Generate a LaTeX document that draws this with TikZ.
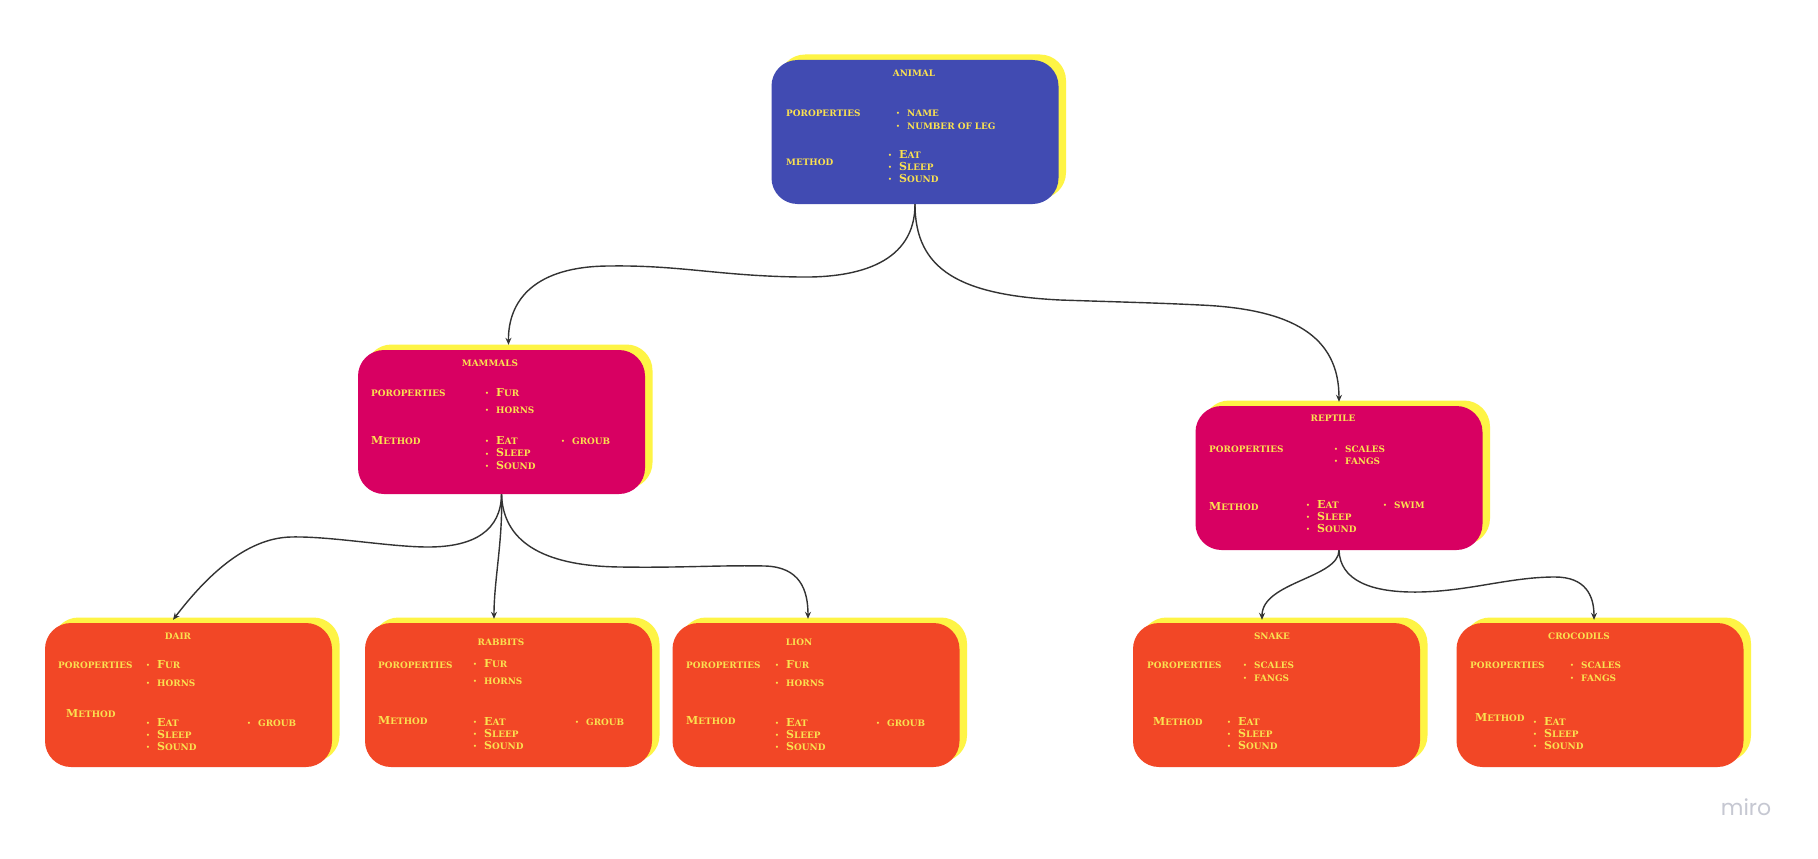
\documentclass[tikz,border=0pt]{standalone}
\usepackage{fontspec}
\setmainfont{DejaVu Serif}
\newfontfamily\mirofont{Poppins}
\usetikzlibrary{shadows,arrows.meta}
\definecolor{cblue}{HTML}{414BB2}
\definecolor{cpink}{HTML}{D80062}
\definecolor{corange}{HTML}{F24726}
\definecolor{cyellow}{HTML}{FEF445}
\definecolor{ctext}{HTML}{FAE150}
\definecolor{cline}{HTML}{333333}
\definecolor{cmiro}{HTML}{C6C8D2}
\newcommand\B[1]{{\fontsize{11}{12}\selectfont #1}}
\newcommand\tline[4]{\node[txt,anchor=base west] (#1) at (#2,{#3+3.3}) {#4};}
\newcommand\tbul[4]{\node[txt,anchor=base west] (#1) at ({#2-11},{#3+3.3}) {\makebox[11pt][l]{\fontsize{6}{6}\selectfont\raisebox{0.8pt}{•}}#4};}
\newcommand\ttitle[4]{\node[txt,anchor=base] (#1) at (#2,{#3+3.3}) {#4};}
\begin{document}
\begin{tikzpicture}[x=1pt,y=-1pt,
  card/.style={rectangle, rounded corners=26pt, minimum width=287pt, minimum height=144pt, inner sep=0pt,
    general shadow={fill=cyellow, shadow xshift=7.5pt, shadow yshift=5.5pt}},
  txt/.style={text=ctext, font=\bfseries\fontsize{8.9}{10}\selectfont, inner sep=0pt},
  link/.style={draw=cline, line width=1.4pt, -{Stealth[length=7pt,width=6pt]}}]
\useasboundingbox[fill=white] (0,0) rectangle (1818,859);

% boxes
\node[card, fill=cblue] (animal) at (915,132) {};
\node[card, fill=cpink] (mammals) at (501.5,422) {};
\node[card, fill=cpink] (reptile) at (1339,478) {};
\node[card, fill=corange] (dair) at (188.5,695) {};
\node[card, fill=corange] (rabbits) at (508.5,695) {};
\node[card, fill=corange] (lion) at (816,695) {};
\node[card, fill=corange] (snake) at (1276.5,695) {};
\node[card, fill=corange] (crocodils) at (1600,695) {};

% animal
\ttitle{a0}{914}{73}{ANIMAL}
\tline{a1}{786}{113}{POROPERTIES}
\tbul{a2}{907}{113}{NAME}
\tbul{a3}{907}{126}{NUMBER OF LEG}
\tline{a4}{786}{162}{METHOD}
\tbul{a5}{899}{155}{\B{E}AT}
\tbul{a6}{899}{167}{\B{S}LEEP}
\tbul{a7}{899}{179}{\B{S}OUND}

% mammals
\ttitle{m0}{490}{363}{MAMMALS}
\tline{m1}{371}{393}{POROPERTIES}
\tbul{m2}{496}{393}{\B{F}UR}
\tbul{m3}{496}{410}{HORNS}
\tline{m4}{371}{441}{\B{M}ETHOD}
\tbul{m5}{496}{441}{\B{E}AT}
\tbul{m6}{496}{453.5}{\B{S}LEEP}
\tbul{m7}{496}{466}{\B{S}OUND}
\tbul{m8}{572}{441}{GROUB}

% reptile
\ttitle{r0}{1333}{418}{REPTILE}
\tline{r1}{1209}{449}{POROPERTIES}
\tbul{r2}{1345}{449}{SCALES}
\tbul{r3}{1345}{461}{FANGS}
\tline{r4}{1209}{507}{\B{M}ETHOD}
\tbul{r5}{1317}{505}{\B{E}AT}
\tbul{r6}{1317}{517}{\B{S}LEEP}
\tbul{r7}{1317}{529}{\B{S}OUND}
\tbul{r8}{1394}{505}{SWIM}

% dair
\ttitle{d0}{178}{636}{DAIR}
\tline{d1}{58}{665}{POROPERTIES}
\tbul{d2}{157}{665}{\B{F}UR}
\tbul{d3}{157}{683}{HORNS}
\tline{d4}{66}{714}{\B{M}ETHOD}
\tbul{d5}{157}{723}{\B{E}AT}
\tbul{d6}{157}{735}{\B{S}LEEP}
\tbul{d7}{157}{747}{\B{S}OUND}
\tbul{d8}{258}{723}{GROUB}

% rabbits
\ttitle{b0}{501}{642}{RABBITS}
\tline{b1}{378}{665}{POROPERTIES}
\tbul{b2}{484}{664}{\B{F}UR}
\tbul{b3}{484}{681}{HORNS}
\tline{b4}{378}{721}{\B{M}ETHOD}
\tbul{b5}{484}{722}{\B{E}AT}
\tbul{b6}{484}{734}{\B{S}LEEP}
\tbul{b7}{484}{746}{\B{S}OUND}
\tbul{b8}{586}{722}{GROUB}

% lion
\ttitle{l0}{799}{642}{LION}
\tline{l1}{686}{665}{POROPERTIES}
\tbul{l2}{786}{665}{\B{F}UR}
\tbul{l3}{786}{683}{HORNS}
\tline{l4}{686}{721}{\B{M}ETHOD}
\tbul{l5}{786}{723}{\B{E}AT}
\tbul{l6}{786}{735}{\B{S}LEEP}
\tbul{l7}{786}{747}{\B{S}OUND}
\tbul{l8}{887}{723}{GROUB}

% snake
\ttitle{s0}{1272}{636}{SNAKE}
\tline{s1}{1147}{665}{POROPERTIES}
\tbul{s2}{1254}{665}{SCALES}
\tbul{s3}{1254}{678}{FANGS}
\tline{s4}{1153}{722}{\B{M}ETHOD}
\tbul{s5}{1238}{722}{\B{E}AT}
\tbul{s6}{1238}{734}{\B{S}LEEP}
\tbul{s7}{1238}{746}{\B{S}OUND}

% crocodils
\ttitle{c0}{1579}{636}{CROCODILS}
\tline{c1}{1470}{665}{POROPERTIES}
\tbul{c2}{1581}{665}{SCALES}
\tbul{c3}{1581}{678}{FANGS}
\tline{c4}{1475}{718}{\B{M}ETHOD}
\tbul{c5}{1544}{722}{\B{E}AT}
\tbul{c6}{1544}{734}{\B{S}LEEP}
\tbul{c7}{1544}{746}{\B{S}OUND}

% connectors
\draw[link] (animal.south) .. controls (915,262) and (860,278) .. (800,277)
  .. controls (720,276) and (680,265) .. (610,266)
  .. controls (535,266) and (508,300) .. ([xshift=7pt,yshift=5pt]mammals.north);
\draw[link] (animal.south) .. controls (915,270) and (960,295) .. (1060,300)
  .. controls (1120,302) and (1160,303) .. (1200,305)
  .. controls (1292,309) and (1339,336) .. ([yshift=4pt]reptile.north);
\draw[link] (mammals.south) .. controls (501,530) and (475,547) .. (428,547)
  .. controls (390,547) and (330,536) .. (291,537)
  .. controls (245,538) and (205,578) .. ([xshift=-15.5pt,yshift=3pt]dair.north);
\draw[link] (mammals.south) .. controls (503,540) and (494,580) .. ([xshift=-14.5pt,yshift=4pt]rabbits.north);
\draw[link] (mammals.south) .. controls (503,540) and (540,566) .. (620,567)
  .. controls (680,568) and (720,565) .. (765,566)
  .. controls (800,567) and (808,590) .. ([xshift=-8pt,yshift=4pt]lion.north);
\draw[link] (reptile.south) .. controls (1339,578) and (1262,582) .. ([xshift=-14.5pt,yshift=3pt]snake.north);
\draw[link] (reptile.south) .. controls (1340,580) and (1370,593) .. (1420,592)
  .. controls (1470,591) and (1510,577) .. (1555,577)
  .. controls (1585,577) and (1594,595) .. ([xshift=-6pt,yshift=3pt]crocodils.north);

% logo
\node[font=\mirofont\fontsize{22}{22}\selectfont, text=cmiro, inner sep=0pt] (logo) at (1746,807) {miro};
\end{tikzpicture}
\end{document}
